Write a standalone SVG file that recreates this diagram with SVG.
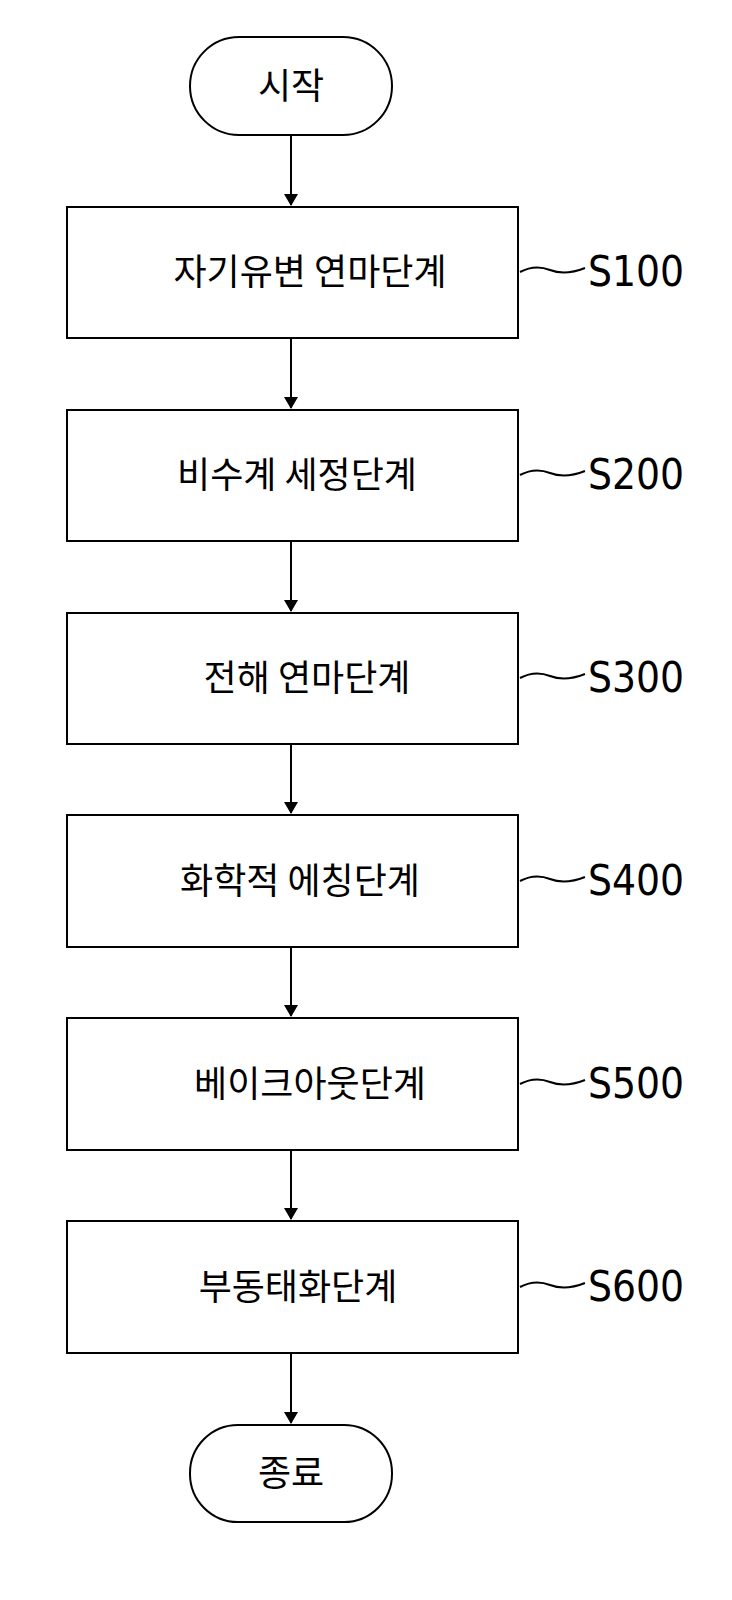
<svg xmlns="http://www.w3.org/2000/svg" width="732" height="1600" viewBox="0 0 732 1600">
<style>
.b{fill:#fff;stroke:#000;stroke-width:2}
.t{font-family:"Noto Sans CJK KR","Noto Sans",sans-serif;font-size:36px;text-anchor:middle}
.s{font-family:"DejaVu Sans Condensed","DejaVu Sans",sans-serif;font-size:42px}
.c{fill:none;stroke:#000;stroke-width:2}
</style>
<defs><marker id="a" markerWidth="12" markerHeight="14" refX="11" refY="7" orient="auto" markerUnits="userSpaceOnUse"><path d="M0,0L12,7L0,14z" fill="#000"/></marker></defs>
<rect width="732" height="1600" fill="#fff"/>
<g id="connectors">
<line class="c" x1="291" y1="135" x2="291" y2="205" marker-end="url(#a)"/>
<line class="c" x1="291" y1="338" x2="291" y2="408" marker-end="url(#a)"/>
<line class="c" x1="291" y1="541" x2="291" y2="611" marker-end="url(#a)"/>
<line class="c" x1="291" y1="744" x2="291" y2="813" marker-end="url(#a)"/>
<line class="c" x1="291" y1="947" x2="291" y2="1016" marker-end="url(#a)"/>
<line class="c" x1="291" y1="1150" x2="291" y2="1219" marker-end="url(#a)"/>
<line class="c" x1="291" y1="1353" x2="291" y2="1423" marker-end="url(#a)"/>
<path class="c" d="M520,272 q15,-8 30,-2 t35,-2"/>
<path class="c" d="M520,475 q15,-8 30,-2 t35,-2"/>
<path class="c" d="M520,678 q15,-8 30,-2 t35,-2"/>
<path class="c" d="M520,881 q15,-8 30,-2 t35,-2"/>
<path class="c" d="M520,1084 q15,-8 30,-2 t35,-2"/>
<path class="c" d="M520,1287 q15,-8 30,-2 t35,-2"/>
</g>
<g id="start"><rect class="b" x="190" y="37" width="202" height="98" rx="49"/><text class="t" x="291" y="99">시작</text></g>
<g id="s100"><rect class="b" x="67" y="207" width="451" height="131"/><text class="t" x="310" y="285">자기유변 연마단계</text><text class="s" x="588" y="286">S100</text></g>
<g id="s200"><rect class="b" x="67" y="410" width="451" height="131"/><text class="t" x="297" y="488">비수계 세정단계</text><text class="s" x="588" y="489">S200</text></g>
<g id="s300"><rect class="b" x="67" y="613" width="451" height="131"/><text class="t" x="307" y="691">전해 연마단계</text><text class="s" x="588" y="692">S300</text></g>
<g id="s400"><rect class="b" x="67" y="815" width="451" height="132"/><text class="t" x="300" y="894">화학적 에칭단계</text><text class="s" x="588" y="895">S400</text></g>
<g id="s500"><rect class="b" x="67" y="1018" width="451" height="132"/><text class="t" x="310" y="1097">베이크아웃단계</text><text class="s" x="588" y="1098">S500</text></g>
<g id="s600"><rect class="b" x="67" y="1221" width="451" height="132"/><text class="t" x="298" y="1300">부동태화단계</text><text class="s" x="588" y="1301">S600</text></g>
<g id="end"><rect class="b" x="190" y="1425" width="202" height="97" rx="48"/><text class="t" x="291" y="1486">종료</text></g>
</svg>
